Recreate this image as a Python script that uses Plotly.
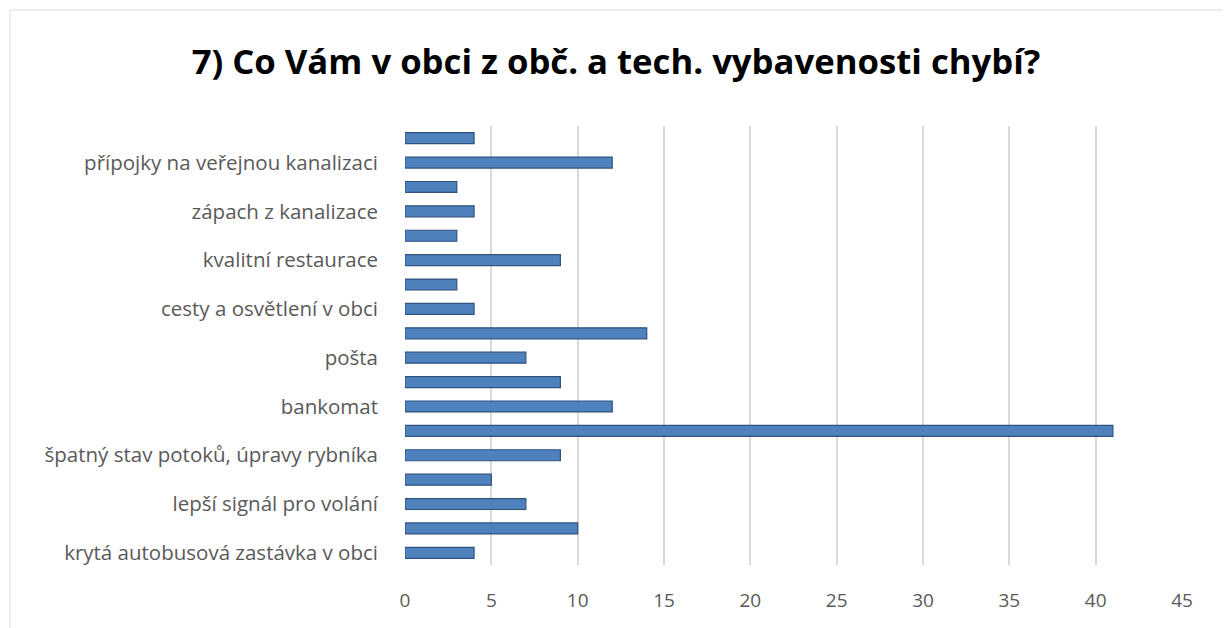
import plotly.graph_objects as go

# Data (bottom to top)
categories = [
    "krytá autobusová zastávka v obci",
    "kategorie 2",
    "lepší signál pro volání",
    "kategorie 4",
    "špatný stav potoků, úpravy rybníka",
    "kategorie 6",
    "bankomat",
    "kategorie 8",
    "pošta",
    "kategorie 10",
    "cesty a osvětlení v obci",
    "kategorie 12",
    "kvalitní restaurace",
    "kategorie 14",
    "zápach z kanalizace",
    "kategorie 16",
    "přípojky na veřejnou kanalizaci",
    "kategorie 18",
]
values = [4, 10, 7, 5, 9, 41, 12, 9, 7, 14, 4, 3, 9, 3, 4, 3, 12, 4]
shown_labels = categories[0::2]
x_ticks = [0, 5, 10, 15, 20, 25, 30, 35, 40, 45]

# page body has an 8px margin, so the figure is drawn 8px smaller
W, H = 1222, 620
ML, MR, MT, MB = 397, 48, 118, 63
FONT = "Open Sans"

fig = go.Figure()
fig.add_trace(go.Bar(
    x=values, y=categories, orientation="h",
    width=0.45,
    marker=dict(color="#4f81bd", line=dict(color="#2f5381", width=1.2)),
    hoverinfo="x+y",
))

pw = W - ML - MR
ph = H - MT - MB
fig.add_shape(type="rect", xref="paper", yref="paper",
              x0=(2 - ML) / pw, x1=(W + 5 - ML) / pw,
              y0=-(MB + 5) / ph, y1=(H - 2 - MB) / ph,
              line=dict(color="#d9d9d9", width=1), layer="below")

fig.update_layout(
    width=W, height=H,
    margin=dict(l=ML, r=MR, t=MT, b=MB),
    paper_bgcolor="white", plot_bgcolor="white",
    showlegend=False,
    title=dict(text="<b>7) Co Vám v obci z obč. a tech. vybavenosti chybí?</b>",
               x=(616 - 8) / W, xref="container", xanchor="center",
               y=1 - 54 / H, yref="container", yanchor="middle",
               font=dict(family=FONT, size=34.7, color="#000000")),
    font=dict(family=FONT, color="#595959"),
    xaxis=dict(range=[0, 45], tickvals=x_ticks, showgrid=True, gridcolor="#d9d9d9",
               gridwidth=2, zeroline=False, showline=False,
               tickfont=dict(family=FONT, size=19, color="#595959"),
               ticklabelstandoff=22, fixedrange=True),
    yaxis=dict(categoryorder="array", categoryarray=categories,
               tickvals=shown_labels, ticktext=shown_labels,
               showgrid=False, zeroline=False, showline=False,
               tickfont=dict(family=FONT, size=20.5, color="#595959"),
               ticklabelstandoff=26, range=[-0.5, len(categories) - 0.5]),
)

fig.write_html("out.html")
